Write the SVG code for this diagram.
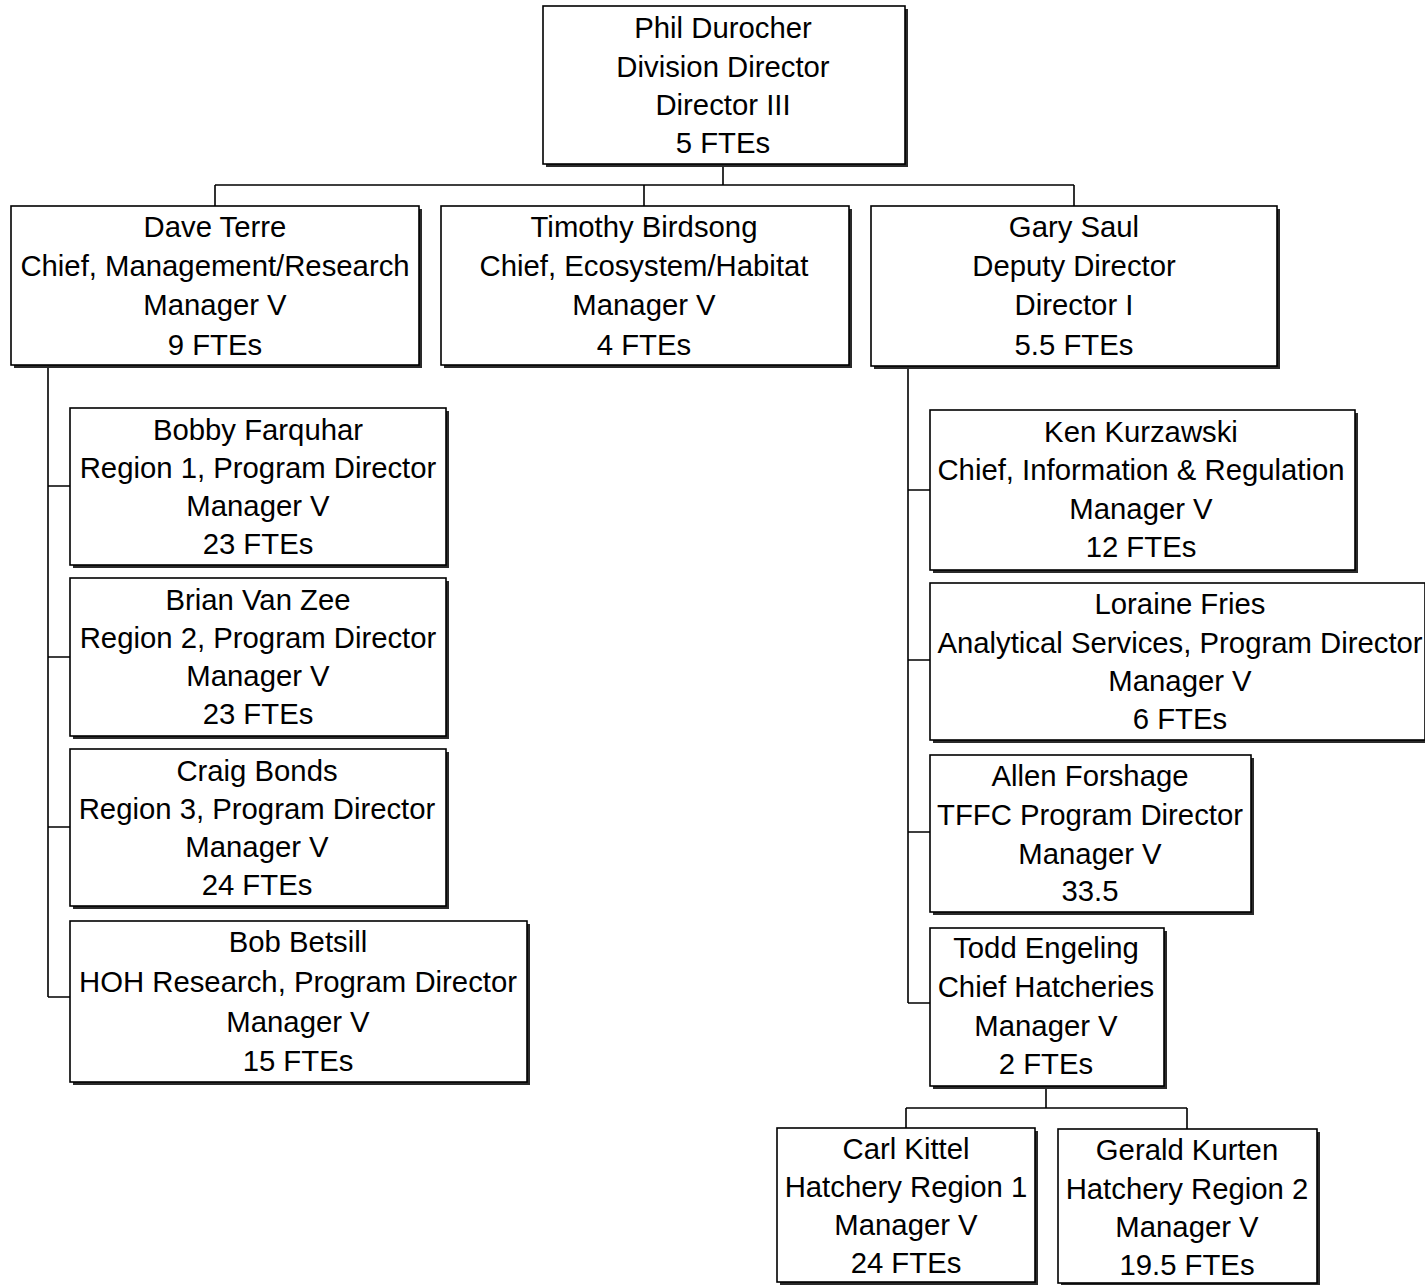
<svg xmlns="http://www.w3.org/2000/svg" width="1425" height="1285" viewBox="0 0 1425 1285">
  <style>
    .bg { fill: #ffffff; }
    .shadow { fill: #2a2a2a; }
    .box { fill: #ffffff; stroke: #000000; stroke-width: 1.6; }
    .lbl { font-family: "Liberation Sans", Arial, sans-serif; font-size: 29.3px; fill: #000000; text-anchor: middle; }
    .conn { fill: none; stroke: #000000; stroke-width: 1.6; }
  </style>
  <rect class="bg" x="0" y="0" width="1425" height="1285"/>

  <!-- reporting lines -->
  <g id="connectors">
    <path class="conn" d="M723 164 V185 M215 185 H1074 M215 185 V206 M644 185 V206 M1074 185 V206"/>
    <path class="conn" d="M48 366 V997 M48 486 H70 M48 657 H70 M48 827 H70 M48 997 H70"/>
    <path class="conn" d="M908 367 V1003 M908 490 H930 M908 660 H930 M908 832 H930 M908 1003 H930"/>
    <path class="conn" d="M1046 1087 V1108 M906 1108 H1187 M906 1108 V1128 M1187 1108 V1129"/>
  </g>

  <g id="phil">
    <rect class="shadow" x="546" y="9" width="362" height="158"/>
    <rect class="box" x="543" y="6" width="362" height="158"/>
    <text class="lbl"><tspan x="723" y="38">Phil Durocher</tspan><tspan x="723" y="77">Division Director</tspan><tspan x="723" y="115">Director III</tspan><tspan x="723" y="153">5 FTEs</tspan></text>
  </g>

  <g id="dave">
    <rect class="shadow" x="14" y="209" width="408" height="159"/>
    <rect class="box" x="11" y="206" width="408" height="159"/>
    <text class="lbl"><tspan x="215" y="237">Dave Terre</tspan><tspan x="215" y="276">Chief, Management/Research</tspan><tspan x="215" y="315">Manager V</tspan><tspan x="215" y="355">9 FTEs</tspan></text>
  </g>

  <g id="timothy">
    <rect class="shadow" x="444" y="209" width="408" height="159"/>
    <rect class="box" x="441" y="206" width="408" height="159"/>
    <text class="lbl"><tspan x="644" y="237">Timothy Birdsong</tspan><tspan x="644" y="276">Chief, Ecosystem/Habitat</tspan><tspan x="644" y="315">Manager V</tspan><tspan x="644" y="355">4 FTEs</tspan></text>
  </g>

  <g id="gary">
    <rect class="shadow" x="874" y="209" width="406" height="160"/>
    <rect class="box" x="871" y="206" width="406" height="160"/>
    <text class="lbl"><tspan x="1074" y="237">Gary Saul</tspan><tspan x="1074" y="276">Deputy Director</tspan><tspan x="1074" y="315">Director I</tspan><tspan x="1074" y="355">5.5 FTEs</tspan></text>
  </g>

  <g id="bobby">
    <rect class="shadow" x="73" y="411" width="376" height="157"/>
    <rect class="box" x="70" y="408" width="376" height="157"/>
    <text class="lbl"><tspan x="258" y="440">Bobby Farquhar</tspan><tspan x="258" y="478">Region 1, Program Director</tspan><tspan x="258" y="516">Manager V</tspan><tspan x="258" y="554">23 FTEs</tspan></text>
  </g>

  <g id="brian">
    <rect class="shadow" x="73" y="581" width="376" height="158"/>
    <rect class="box" x="70" y="578" width="376" height="158"/>
    <text class="lbl"><tspan x="258" y="610">Brian Van Zee</tspan><tspan x="258" y="648">Region 2, Program Director</tspan><tspan x="258" y="686">Manager V</tspan><tspan x="258" y="724">23 FTEs</tspan></text>
  </g>

  <g id="craig">
    <rect class="shadow" x="73" y="752" width="376" height="157"/>
    <rect class="box" x="70" y="749" width="376" height="157"/>
    <text class="lbl"><tspan x="257" y="781">Craig Bonds</tspan><tspan x="257" y="819">Region 3, Program Director</tspan><tspan x="257" y="857">Manager V</tspan><tspan x="257" y="895">24 FTEs</tspan></text>
  </g>

  <g id="bob">
    <rect class="shadow" x="73" y="924" width="457" height="161"/>
    <rect class="box" x="70" y="921" width="457" height="161"/>
    <text class="lbl"><tspan x="298" y="952">Bob Betsill</tspan><tspan x="298" y="992">HOH Research, Program Director</tspan><tspan x="298" y="1032">Manager V</tspan><tspan x="298" y="1071">15 FTEs</tspan></text>
  </g>

  <g id="ken">
    <rect class="shadow" x="933" y="413" width="425" height="160"/>
    <rect class="box" x="930" y="410" width="425" height="160"/>
    <text class="lbl"><tspan x="1141" y="442">Ken Kurzawski</tspan><tspan x="1141" y="480">Chief, Information &amp; Regulation</tspan><tspan x="1141" y="519">Manager V</tspan><tspan x="1141" y="557">12 FTEs</tspan></text>
  </g>

  <g id="loraine">
    <rect class="shadow" x="933" y="586" width="495" height="157"/>
    <rect class="box" x="930" y="583" width="495" height="157"/>
    <text class="lbl"><tspan x="1180" y="614">Loraine Fries</tspan><tspan x="1180" y="653">Analytical Services, Program Director</tspan><tspan x="1180" y="691">Manager V</tspan><tspan x="1180" y="729">6 FTEs</tspan></text>
  </g>

  <g id="allen">
    <rect class="shadow" x="933" y="758" width="321" height="157"/>
    <rect class="box" x="930" y="755" width="321" height="157"/>
    <text class="lbl"><tspan x="1090" y="786">Allen Forshage</tspan><tspan x="1090" y="825">TFFC Program Director</tspan><tspan x="1090" y="864">Manager V</tspan><tspan x="1090" y="901">33.5</tspan></text>
  </g>

  <g id="todd">
    <rect class="shadow" x="933" y="931" width="234" height="158"/>
    <rect class="box" x="930" y="928" width="234" height="158"/>
    <text class="lbl"><tspan x="1046" y="958">Todd Engeling</tspan><tspan x="1046" y="997">Chief Hatcheries</tspan><tspan x="1046" y="1036">Manager V</tspan><tspan x="1046" y="1074">2 FTEs</tspan></text>
  </g>

  <g id="carl">
    <rect class="shadow" x="780" y="1131" width="258" height="154"/>
    <rect class="box" x="777" y="1128" width="258" height="154"/>
    <text class="lbl"><tspan x="906" y="1159">Carl Kittel</tspan><tspan x="906" y="1197">Hatchery Region 1</tspan><tspan x="906" y="1235">Manager V</tspan><tspan x="906" y="1273">24 FTEs</tspan></text>
  </g>

  <g id="gerald">
    <rect class="shadow" x="1061" y="1132" width="259" height="154"/>
    <rect class="box" x="1058" y="1129" width="259" height="154"/>
    <text class="lbl"><tspan x="1187" y="1160">Gerald Kurten</tspan><tspan x="1187" y="1199">Hatchery Region 2</tspan><tspan x="1187" y="1237">Manager V</tspan><tspan x="1187" y="1275">19.5 FTEs</tspan></text>
  </g>
</svg>
